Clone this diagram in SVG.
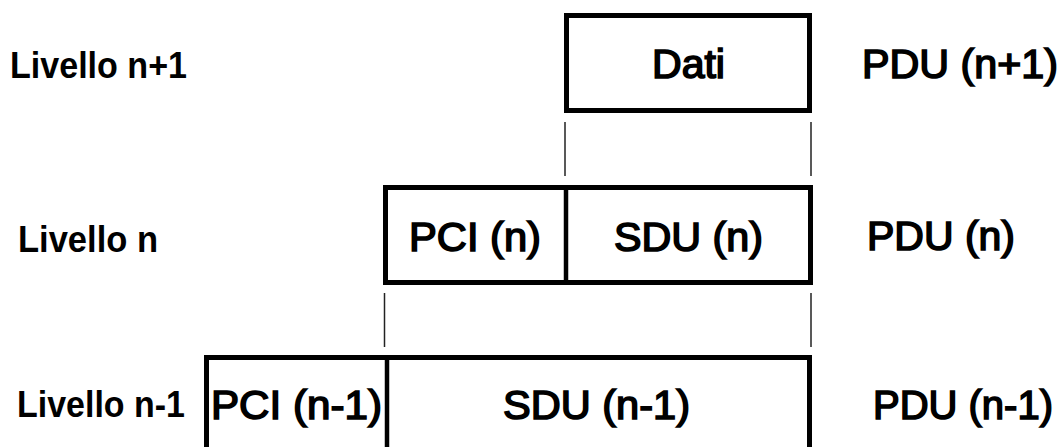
<svg xmlns="http://www.w3.org/2000/svg" width="1063" height="447" viewBox="0 0 1063 447">
<style>
.box{fill:#fff;stroke:#000;stroke-width:5}
.div{stroke:#000;stroke-width:4.5}
.con{stroke:#222;stroke-width:1.5}
.lbl{font-family:"Liberation Sans",Arial,sans-serif;font-weight:bold;font-size:36px;fill:#000}
.txt{font-family:"Liberation Sans",Arial,sans-serif;font-weight:normal;font-size:40px;fill:#000;stroke:#000;stroke-width:1.6}
</style>
<rect width="1063" height="447" fill="#fff"/>
<g id="connectors">
<line class="con" x1="565" y1="122" x2="565" y2="176"/>
<line class="con" x1="811" y1="122" x2="811" y2="176"/>
<line class="con" x1="384.5" y1="293" x2="384.5" y2="347"/>
<line class="con" x1="811" y1="293" x2="811" y2="347"/>
</g>
<g id="label-n1"><text class="lbl" x="10" y="78" textLength="177" lengthAdjust="spacingAndGlyphs">Livello n+1</text></g>
<g id="label-n"><text class="lbl" x="18" y="252" textLength="140" lengthAdjust="spacingAndGlyphs">Livello n</text></g>
<g id="label-nm1"><text class="lbl" x="17" y="417" textLength="168" lengthAdjust="spacingAndGlyphs">Livello n-1</text></g>
<g id="pdu-level-n1">
<rect class="box" x="566.5" y="15.5" width="243" height="95"/>
<text class="txt" x="652" y="78" textLength="73" lengthAdjust="spacingAndGlyphs">Dati</text>
</g>
<g id="pdu-level-n">
<rect class="box" x="385.5" y="187.5" width="425" height="95"/>
<line class="div" x1="566" y1="187" x2="566" y2="283"/>
<text class="txt" x="409" y="251" textLength="132" lengthAdjust="spacingAndGlyphs">PCI (n)</text>
<text class="txt" x="614" y="251" textLength="149" lengthAdjust="spacingAndGlyphs">SDU (n)</text>
</g>
<g id="pdu-level-nm1">
<rect class="box" x="206.5" y="357.5" width="603" height="120"/>
<line class="div" x1="387" y1="357" x2="387" y2="447"/>
<text class="txt" x="211" y="419" textLength="171" lengthAdjust="spacingAndGlyphs">PCI (n-1)</text>
<text class="txt" x="503" y="419" textLength="187" lengthAdjust="spacingAndGlyphs">SDU (n-1)</text>
</g>
<g id="pdu-names">
<text class="txt" x="862" y="78" textLength="196" lengthAdjust="spacingAndGlyphs">PDU (n+1)</text>
<text class="txt" x="867" y="250" textLength="148" lengthAdjust="spacingAndGlyphs">PDU (n)</text>
<text class="txt" x="873" y="419" textLength="180" lengthAdjust="spacingAndGlyphs">PDU (n-1)</text>
</g>
</svg>
